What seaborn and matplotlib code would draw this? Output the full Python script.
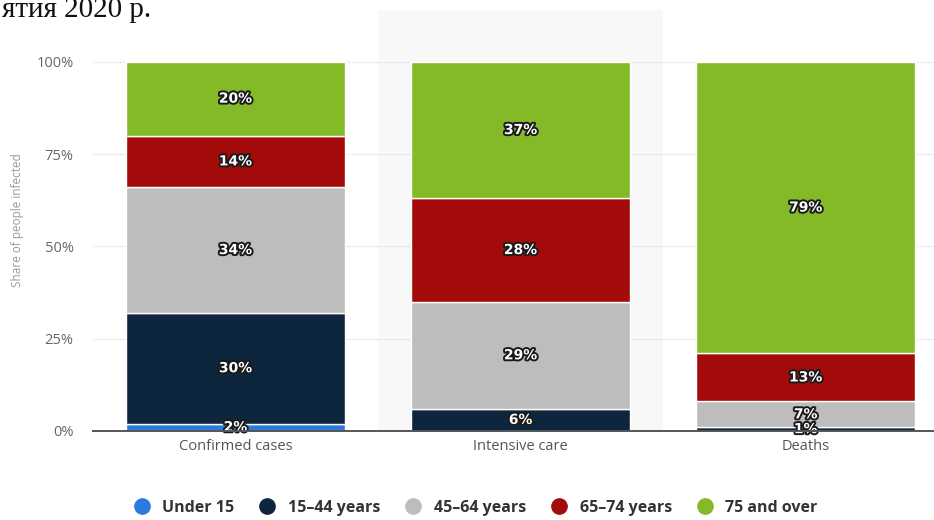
import matplotlib
matplotlib.use("Agg")
import matplotlib.pyplot as plt
import matplotlib.patheffects as pe
from matplotlib.lines import Line2D
import numpy as np
import pandas as pd
import seaborn as sns

categories = ["Confirmed cases", "Intensive care", "Deaths"]
age_groups = ["Under 15", "15-44 years", "45-64 years", "65-74 years", "75 and over"]
under_15 = [2, 0, 0]
age_15_44 = [30, 6, 1]
age_45_64 = [34, 29, 7]
age_65_74 = [14, 28, 13]
age_75_over = [20, 37, 79]
y_ticks = [0, 25, 50, 75, 100]
y_tick_labels = ["0%", "25%", "50%", "75%", "100%"]
colors = ["#2b7bde", "#0e263d", "#bdbdbd", "#a30b0b", "#84ba27"]

series = [under_15, age_15_44, age_45_64, age_65_74, age_75_over]
rows = []
for group, vals in zip(age_groups, series):
    for cat, v in zip(categories, vals):
        rows.append({"category": cat, "group": group, "value": v})
df = pd.DataFrame(rows)

sns.set_theme(style="white")
plt.rcParams["font.family"] = ["Open Sans", "DejaVu Sans"]

fig = plt.figure(figsize=(9.34, 5.2), dpi=100)
ax = fig.add_axes([93 / 934, 89 / 520, 1 - 93 / 934, 421 / 520])

# highlighted column behind the middle category
ax.axvspan(0.5, 1.5, ymin=0, ymax=1, color="#f8f8f8", zorder=0, lw=0)

for yv in y_ticks[1:]:
    ax.axhline(yv, color="#d6d6d6", lw=0.8, ls=(0, (1.2, 1.2)), zorder=0.5)

bottom = np.zeros(len(categories))
for group, color in zip(age_groups, colors):
    sub = df[df["group"] == group]
    vals = sub["value"].to_numpy(dtype=float)
    sns.barplot(data=sub, x="category", y="value", order=categories,
                color=color, saturation=1, bottom=bottom, width=0.77, ax=ax,
                edgecolor="white", linewidth=1.0, zorder=2, errorbar=None)
    for i, v in enumerate(vals):
        if v > 0:
            ax.text(i, bottom[i] + v / 2, f"{int(v)}%", ha="center", va="center",
                    color="white", fontsize=10, fontweight="bold",
                    family=["DejaVu Sans"], zorder=5,
                    path_effects=[pe.withStroke(linewidth=2.8, foreground="#1a1a1a")])
    bottom = bottom + vals

ax.set_xlim(-0.5, 2.45)
ax.set_ylim(0, 114)
ax.set_yticks(y_ticks)
ax.set_yticklabels(y_tick_labels, color="#666666", fontsize=10.5)
ax.tick_params(axis="y", length=0, pad=14)
ax.tick_params(axis="x", length=0, pad=6, labelsize=10.5, labelcolor="#555555")
ax.set_xlabel("")
ax.set_ylabel("Share of people infected", color="#999999", fontsize=8.5, labelpad=9)
for side in ["top", "right", "left"]:
    ax.spines[side].set_visible(False)
ax.spines["bottom"].set_color("#555555")
ax.spines["bottom"].set_linewidth(1.4)
ax.spines["bottom"].set_zorder(6)
ax.patch.set_alpha(0)

handles = [Line2D([0], [0], marker="o", linestyle="", markersize=11,
                  markerfacecolor=c, markeredgecolor=c) for c in colors]
labels = [g.replace("-", "–") for g in age_groups]
fig.legend(handles, labels, loc="center", bbox_to_anchor=(0.505, 1 - 508 / 520),
           ncol=5, frameon=False, handletextpad=0.3,
           columnspacing=1.05, labelcolor="#333333",
           prop={"family": "Open Sans", "weight": "bold", "size": 11.5})

fig.text(151 / 934, 1 - 17 / 520, "ятия 2020 р.", family="Liberation Serif",
         fontsize=21, color="#111111", va="baseline", ha="right")

fig.savefig("out.png", dpi=100, facecolor="white")
